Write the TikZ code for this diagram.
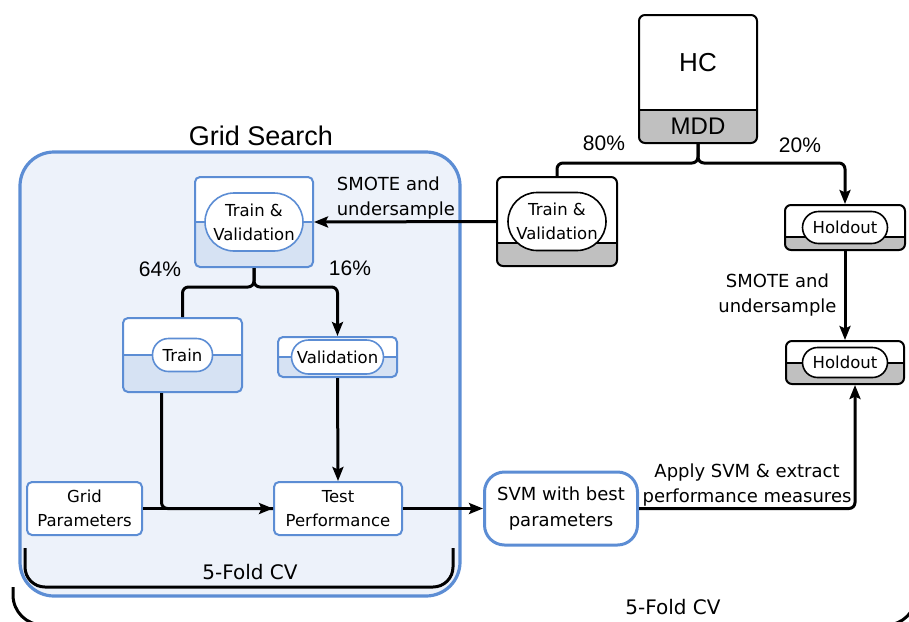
\documentclass[tikz,border=0pt]{standalone}
\usepackage{fontspec}
\setmainfont{DejaVu Sans}
\newfontfamily\arialfont{Liberation Sans}
\usepackage{tikz}
\usetikzlibrary{arrows.meta,positioning,calc}
\definecolor{gsblue}{RGB}{92,141,212}
\definecolor{gsback}{RGB}{237,242,250}
\definecolor{gslow}{RGB}{214,226,243}
\definecolor{dgray}{RGB}{192,192,192}
\tikzset{
  lowerpart/.style n args={3}{path picture={
    \fill[#2, sharp corners] (path picture bounding box.south west) rectangle ([yshift=#1]path picture bounding box.south east);
    \draw[#3, line width=1.8pt, sharp corners] ([yshift=#1]path picture bounding box.south west) -- ([yshift=#1]path picture bounding box.south east);
  }},
}

\begin{document}
\begin{tikzpicture}[x=1pt,y=-1pt]
\tikzstyle{gbox}=[draw=black, fill=white, line width=2pt, rounded corners=6pt, inner sep=0pt]
\tikzstyle{bbox}=[draw=gsblue, fill=white, line width=2pt, rounded corners=5pt, inner sep=0pt, align=center, font=\fontsize{16.5}{24}\selectfont]
\tikzstyle{pill}=[draw, fill=white, line width=1.6pt, inner sep=1pt, align=center, font=\fontsize{16.5}{24}\selectfont]
\tikzstyle{txt}=[align=center, inner sep=1pt, font=\fontsize{18}{25}\selectfont]
\tikzstyle{pct}=[font=\arialfont\fontsize{21}{25}\selectfont]
\tikzstyle{arr}=[-{Stealth[length=14pt,width=11pt,inset=2.5pt]}, line width=3pt, rounded corners=6pt]
\tikzstyle{lin}=[line width=3pt, rounded corners=6pt]
\useasboundingbox (0,0) rectangle (909,621);

% grid search block
\node[draw=gsblue, fill=gsback, line width=3.2pt, rounded corners=34pt, minimum width=440pt, minimum height=444pt] (gs) at (240,374) {};
\node[font=\arialfont\fontsize{27}{30}\selectfont] (gslab) at (261,136) {Grid Search};
\draw[line width=3pt, rounded corners=20pt] (25,548) -- (25,587) -- (453,587) -- (453,548);
\node[txt, font=\fontsize{20}{24}\selectfont] (cvin) at (250,572) {5-Fold CV};
\draw[line width=3pt, rounded corners=30pt] (13,587) -- (13,625) -- (916,625) -- (916,587);
\node[txt, font=\fontsize{20}{24}\selectfont] (cvout) at (673,607) {5-Fold CV};

% data
\node[gbox, minimum width=118pt, minimum height=128pt, lowerpart={33pt}{dgray}{black}] (hc) at (698,79) {};
\node[font=\arialfont\fontsize{26}{30}\selectfont] (hclab) at ([yshift=16pt]hc.center) {HC};
\node[font=\arialfont\fontsize{24}{28}\selectfont] (mddlab) at ([yshift=-47pt]hc.center) {MDD};
\node[gbox, minimum width=120pt, minimum height=89pt, lowerpart={23pt}{dgray}{black}] (tvo) at (557,221.5) {};
\node[pill, minimum width=98pt, minimum height=58pt, rounded corners=29pt] (tvolab) at (tvo) {Train \&\\Validation};
\node[gbox, minimum width=120pt, minimum height=45pt, lowerpart={13pt}{dgray}{black}] (hout) at (845,227.5) {};
\node[pill, minimum width=85pt, minimum height=32pt, rounded corners=16pt] (houtlab) at (hout) {Holdout};
\node[gbox, minimum width=118pt, minimum height=43pt, lowerpart={21pt}{dgray}{black}, below=89pt of hout] (hin) {};
\node[pill, minimum width=85pt, minimum height=30pt, rounded corners=15pt] (hinlab) at (hin) {Holdout};

% inside grid search
\node[bbox, minimum width=118pt, minimum height=90pt, lowerpart={45pt}{gslow}{gsblue}] (tvi) at (254,222) {};
\node[pill, draw=gsblue, minimum width=98pt, minimum height=58pt, rounded corners=29pt] (tvilab) at (tvi) {Train \&\\Validation};
\node[bbox, minimum width=119pt, minimum height=74pt, lowerpart={37pt}{gslow}{gsblue}] (trn) at (182.5,355) {};
\node[pill, draw=gsblue, minimum width=60pt, minimum height=33pt, rounded corners=16pt] (trnlab) at (trn) {Train};
\node[bbox, minimum width=119pt, minimum height=40pt, lowerpart={20pt}{gslow}{gsblue}] (val) at (337.5,357) {};
\node[pill, draw=gsblue, minimum width=92pt, minimum height=34pt, rounded corners=17pt] (vallab) at (val) {Validation};
\node[bbox, minimum width=128pt, minimum height=53pt] (test) at (338,508.5) {Test\\Performance};
\node[bbox, minimum width=115pt, minimum height=53pt, left=130pt of test] (gp) {Grid\\Parameters};
\node[bbox, line width=3pt, rounded corners=20pt, minimum width=153pt, minimum height=73pt, font=\fontsize{18}{26}\selectfont, right=80pt of test] (svm) {SVM with best\\parameters};

% connectors
\draw[lin] (hc.south) -- ++(0,19) -| (tvo.north);
\draw[arr] (hc.south) -- ++(0,19) -| (hout.north);
\node[pct] (p80) at (604,143) {80\%};
\node[pct] (p20) at (800,145) {20\%};
\draw[arr] (tvo.west) -- node[txt, above, align=left, pos=0.55] (smote1) {SMOTE and\\undersample} (tvi.east);
\draw[lin] (tvi.south) -- ++(0,19) -| (trn.north);
\draw[arr] (tvi.south) -- ++(0,19) -| (val.north);
\node[pct] (p64) at (160,269) {64\%};
\node[pct] (p16) at (350,268) {16\%};
\draw[lin] ([xshift=-21pt]trn.south) |- (test.west);
\draw[arr] (gp.east) -- (test.west);
\draw[arr] (val.south) -- (test.north);
\draw[arr] (test.east) -- (svm.west);
\draw[arr] (hout.south) -- node[txt, left=6pt] (smote2) {SMOTE and\\undersample} (hin.north);
\draw[arr] (svm.east) -| node[txt, above, pos=0.25] (apply) {Apply SVM \& extract\\performance measures} ([xshift=10pt]hin.south);
\end{tikzpicture}
\end{document}
